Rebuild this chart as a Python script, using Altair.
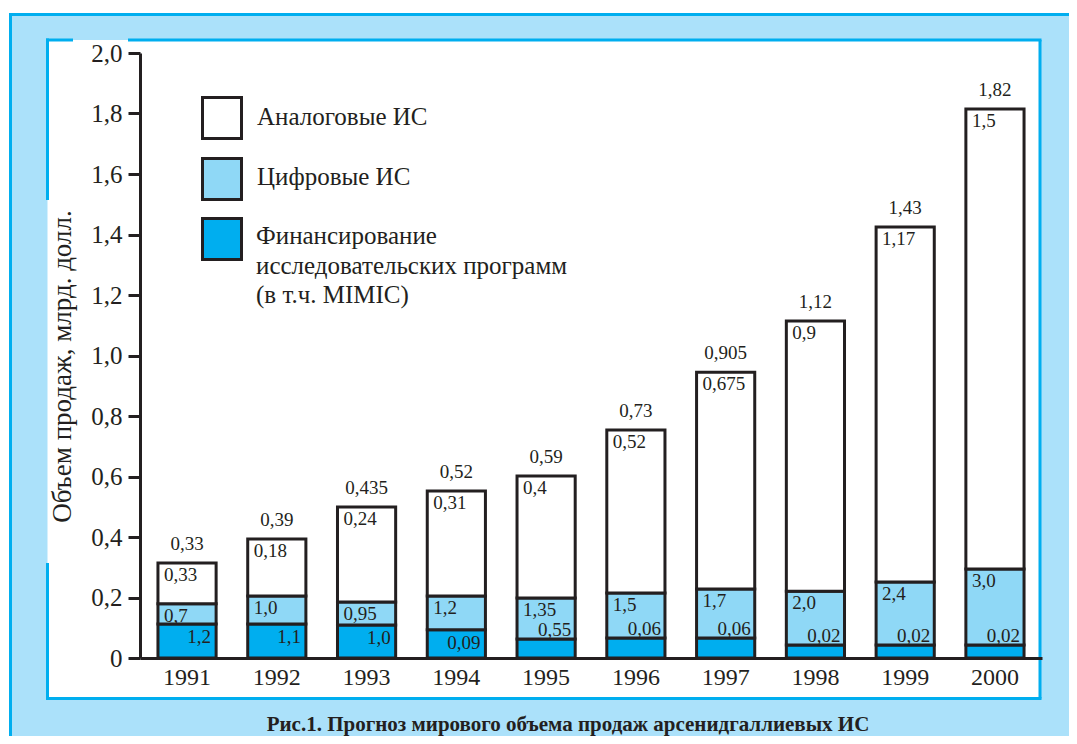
import altair as alt
import pandas as pd

# ---- data ----
years = ["1991", "1992", "1993", "1994", "1995", "1996", "1997", "1998", "1999", "2000"]
fund = [0.112, 0.112, 0.109, 0.093, 0.063, 0.066, 0.066, 0.043, 0.043, 0.043]
digital = [0.067, 0.093, 0.076, 0.112, 0.135, 0.149, 0.162, 0.178, 0.208, 0.251]
analog = [0.135, 0.188, 0.314, 0.347, 0.404, 0.539, 0.717, 0.893, 1.174, 1.521]

total_labels = ["0,33", "0,39", "0,435", "0,52", "0,59", "0,73", "0,905", "1,12", "1,43", "1,82"]
analog_labels = ["0,33", "0,18", "0,24", "0,31", "0,4", "0,52", "0,675", "0,9", "1,17", "1,5"]
digital_labels = ["0,7", "1,0", "0,95", "1,2", "1,35", "1,5", "1,7", "2,0", "2,4", "3,0"]
fund_labels = ["1,2", "1,1", "1,0", "0,09", "0,55", "0,06", "0,06", "0,02", "0,02", "0,02"]

series_names = ["Аналоговые ИС", "Цифровые ИС",
                "Финансирование исследовательских программ (в т.ч. MIMIC)"]
series_colors = ["#ffffff", "#8fd8f6", "#00aeef"]
y_ticks = [0, 0.2, 0.4, 0.6, 0.8, 1.0, 1.2, 1.4, 1.6, 1.8, 2.0]

y_title = "Объем продаж, млрд. долл."
caption = "Рис.1. Прогноз мирового объема продаж арсенидгаллиевых ИС"

# ---- tables ----
rows = []
for i, yr in enumerate(years):
    rows.append(dict(year=yr, series=series_names[2], value=fund[i], order=0))
    rows.append(dict(year=yr, series=series_names[1], value=digital[i], order=1))
    rows.append(dict(year=yr, series=series_names[0], value=analog[i], order=2))
long_df = pd.DataFrame(rows)

wide = pd.DataFrame(dict(year=years, fund=fund, digital=digital, analog=analog,
                         tl=total_labels, al=analog_labels, dl=digital_labels, fl=fund_labels))
wide["fund_top"] = wide["fund"]
wide["digital_top"] = wide["fund"] + wide["digital"]
wide["total"] = wide["digital_top"] + wide["analog"]

INK = "#231f20"
BLUE = "#00aeef"
LIGHT = "#abe1fa"
FONT = "'Liberation Serif', 'Times New Roman', 'DejaVu Serif', serif"

x_scale = alt.Scale(paddingInner=0.352, paddingOuter=0.2)
x_axis = alt.Axis(title=None, ticks=False, labelAngle=0, labelFontSize=24, labelPadding=7,
                  domainWidth=3, domainColor=INK, labelColor=INK, labelFont=FONT, zindex=1)
y_scale = alt.Scale(domain=[0, 2], nice=False)
y_axis = alt.Axis(title=y_title, values=y_ticks, grid=False,
                  labelExpr="datum.value == 0 ? '0' : replace(format(datum.value, '.1f'), '.', ',')",
                  labelFontSize=25, labelFont=FONT, labelColor=INK, labelPadding=6,
                  tickSize=12, tickWidth=3, tickColor=INK, domainWidth=3, domainColor=INK,
                  titleFont=FONT, titleFontSize=27, titleFontWeight="normal", titleColor=INK,
                  titleX=-78, titleY=313, titleAlign="center", titleBaseline="middle", zindex=1)


def X(band=0.5):
    return alt.X("year:N", scale=x_scale, axis=x_axis, bandPosition=band)


def Y(field):
    return alt.Y(field, scale=y_scale, axis=y_axis)


one = alt.Data(values=[{"a": 1}])


def deco_rect(x, x2, y, y2, **kw):
    return alt.Chart(one).mark_rect(**kw).encode(
        x=alt.value(x), x2=alt.value(x2), y=alt.value(y), y2=alt.value(y2))


def deco_rule(x, x2, y, y2):
    return alt.Chart(one).mark_rule(color=BLUE, strokeWidth=3).encode(
        x=alt.value(x), x2=alt.value(x2), y=alt.value(y), y2=alt.value(y2))


def deco_text(x, y, txt, **kw):
    return alt.Chart(one).mark_text(font=FONT, color=INK, baseline="middle", **kw).encode(
        x=alt.value(x), y=alt.value(y), text=alt.value(txt))


# background frame and white panel
frame = deco_rect(-129.5, 945, -38.5, 700, fill=LIGHT, stroke=BLUE, strokeWidth=3)
panel = deco_rect(-92.5, 900, -13, 645.5, fill="white", strokeWidth=0)
borders = [
    deco_rule(-92.5, -92.5, -14.5, 147),
    deco_rule(-92.5, -92.5, 510, 647),
    deco_rule(-94, -67, -13, -13),
    deco_rule(-12, 901.5, -13, -13),
    deco_rule(900, 900, -13, 645.5),
    deco_rule(-94, 901.5, 645.5, 645.5),
]

bars = alt.Chart(long_df).mark_bar(stroke=INK, strokeWidth=3).encode(
    x=X(),
    y=alt.Y("value:Q", stack="zero", scale=y_scale, axis=y_axis),
    color=alt.Color("series:N", scale=alt.Scale(domain=series_names, range=series_colors), legend=None),
    order=alt.Order("order:Q", sort="ascending"),
)

txt_kw = dict(font=FONT, fontSize=19, color=INK, baseline="middle")
base = alt.Chart(wide)
t_total = base.mark_text(dy=-19, **txt_kw).encode(x=X(), y=Y("total:Q"), text="tl:N")
t_analog = base.mark_text(align="left", dx=6, dy=12, **txt_kw).encode(x=X(0), y=Y("total:Q"), text="al:N")
t_digital = base.mark_text(align="left", dx=6, dy=12, **txt_kw).encode(x=X(0), y=Y("digital_top:Q"), text="dl:N")
t_fund_in = base.transform_filter("datum.fund >= 0.08").mark_text(align="right", dx=-5, dy=13, **txt_kw).encode(
    x=X(1), y=Y("fund_top:Q"), text="fl:N")
t_fund_out = base.transform_filter("datum.fund < 0.08").mark_text(align="right", dx=-4, dy=-9, **txt_kw).encode(
    x=X(1), y=Y("fund_top:Q"), text="fl:N")

# legend
legend_layers = []
sq_y = [44.5, 105.5, 165.5]
for c, yy in zip(series_colors, sq_y):
    legend_layers.append(deco_rect(62.5, 101.5, yy, yy + 41, fill=c, stroke=INK, strokeWidth=3))
legend_layers += [
    deco_text(117, 64, "Аналоговые ИС", fontSize=25, align="left"),
    deco_text(117, 124, "Цифровые ИС", fontSize=25, align="left"),
    deco_text(116, 183, "Финансирование", fontSize=25, align="left"),
    deco_text(116, 213, "исследовательских программ", fontSize=25, align="left"),
    deco_text(116, 242, "(в т.ч. MIMIC)", fontSize=25, align="left"),
]

cap = deco_text(428, 672, caption, fontSize=21, fontWeight="bold", align="center")

chart = alt.layer(
    frame, panel, *borders, bars, t_total, t_analog, t_digital, t_fund_in, t_fund_out,
    *legend_layers, cap
).properties(
    width=902, height=605,
    padding={"left": 132, "top": 45, "right": 27, "bottom": 78},
    autosize=alt.AutoSizeParams(type="none"),
    background="white",
).configure_view(strokeWidth=0)

chart.save("out.html", embed_options={"renderer": "svg", "actions": False})
